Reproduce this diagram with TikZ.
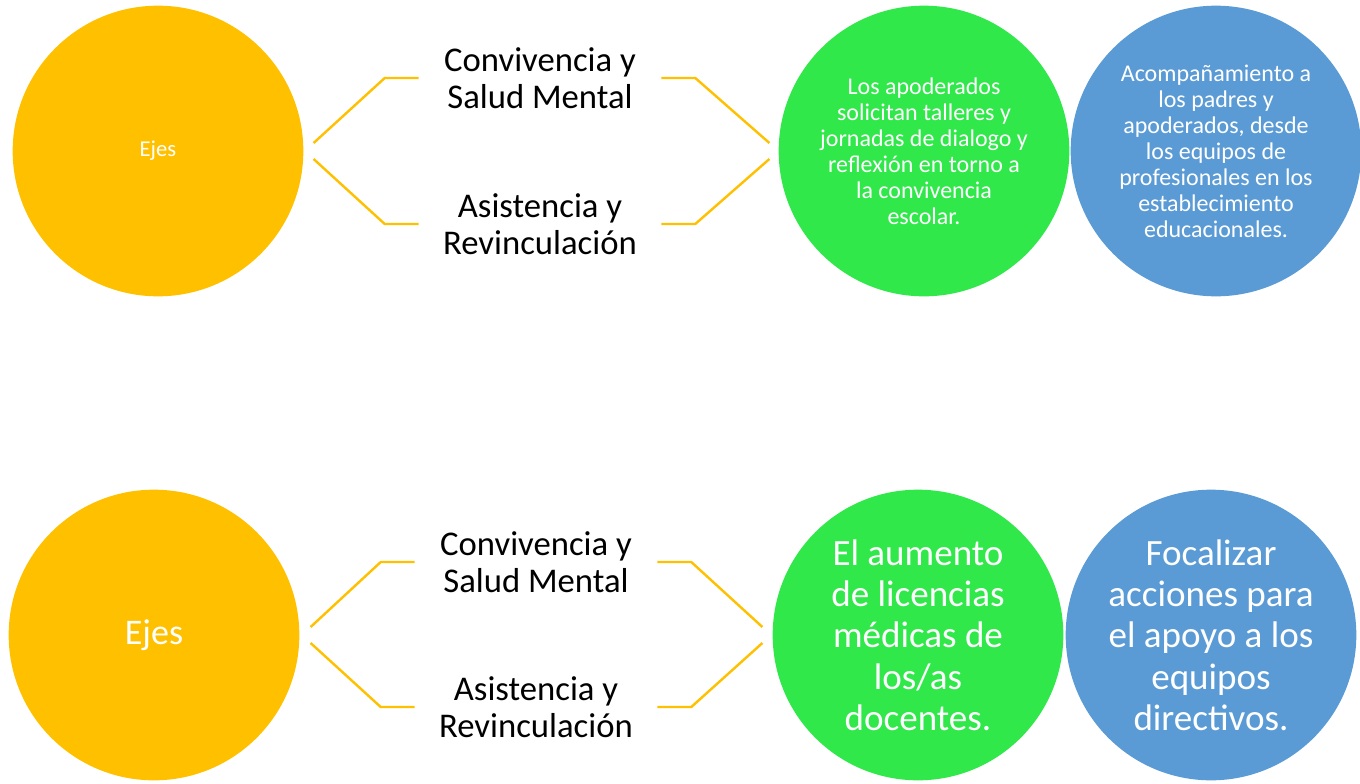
\documentclass[tikz,border=0pt]{standalone}
\usepackage{fontspec}
\setmainfont{Carlito}
\usepackage{tikz}
\definecolor{oro}{HTML}{FFC000}
\definecolor{verde}{HTML}{31E84B}
\definecolor{azul}{HTML}{5B9BD5}
\tikzset{
	eje/.style={circle, fill=oro, text=white, minimum size=218pt, inner sep=0pt, align=center},
	prob/.style={circle, fill=verde, text=white, minimum size=218pt, inner sep=0pt, align=center},
	accion/.style={circle, fill=azul, text=white, minimum size=218pt, inner sep=0pt, align=center},
	tema/.style={inner sep=0pt, minimum width=181.5pt, align=center, text=black,
		font=\fontsize{26}{27.75}\selectfont},
	rama/.style={draw=oro, line width=1.8pt}
}

\begin{document}
\begin{tikzpicture}[x=0.75pt, y=-0.75pt]
	\useasboundingbox (0,0) rectangle (1360,783);
	% fila superior
	\node[eje, font=\fontsize{17}{20}\selectfont] (eje1) at (158,151) {Ejes};
	\node[tema] (conv1) at (540,78) {Convivencia y\\Salud Mental};
	\node[tema] (asis1) at (540,224) {Asistencia y\\Revinculación};
	\node[prob, font=\fontsize{18}{19.5}\selectfont] (prob1) at (924,151)
		{Los apoderados\\solicitan talleres y\\jornadas de dialogo y\\reflexión en torno a\\la convivencia\\escolar.};
	\node[accion, font=\fontsize{18}{19.5}\selectfont] (acc1) at (1216,151)
		{Acompañamiento a\\los padres y\\apoderados, desde\\los equipos de\\profesionales en los\\establecimiento\\educacionales.};
	\draw[rama] ([shift={(10,-8)}]eje1.east) -- ([shift={(-34,0)}]conv1.west) -- (conv1.west);
	\draw[rama] ([shift={(10,8)}]eje1.east) -- ([shift={(-34,0)}]asis1.west) -- (asis1.west);
	\draw[rama] (conv1.east) -- ([shift={(34,0)}]conv1.east) -- ([shift={(-9,-8)}]prob1.west);
	\draw[rama] (asis1.east) -- ([shift={(34,0)}]asis1.east) -- ([shift={(-9,8)}]prob1.west);
	% fila inferior
	\node[eje, font=\fontsize{27}{31}\selectfont] (eje2) at (154,635) {Ejes};
	\node[tema] (conv2) at (536,562) {Convivencia y\\Salud Mental};
	\node[tema] (asis2) at (536,707) {Asistencia y\\Revinculación};
	\node[prob, font=\fontsize{27.8}{31}\selectfont] (prob2) at (918,635)
		{El aumento\\de licencias\\médicas de\\los/as\\docentes.};
	\node[accion, font=\fontsize{27.8}{31}\selectfont] (acc2) at (1211,635)
		{Focalizar\\acciones para\\el apoyo a los\\equipos\\directivos.};
	\draw[rama] ([shift={(11,-8)}]eje2.east) -- ([shift={(-34,0)}]conv2.west) -- (conv2.west);
	\draw[rama] ([shift={(11,8)}]eje2.east) -- ([shift={(-34,0)}]asis2.west) -- (asis2.west);
	\draw[rama] (conv2.east) -- ([shift={(34,0)}]conv2.east) -- ([shift={(-10,-8)}]prob2.west);
	\draw[rama] (asis2.east) -- ([shift={(34,0)}]asis2.east) -- ([shift={(-10,8)}]prob2.west);
\end{tikzpicture}
\end{document}
